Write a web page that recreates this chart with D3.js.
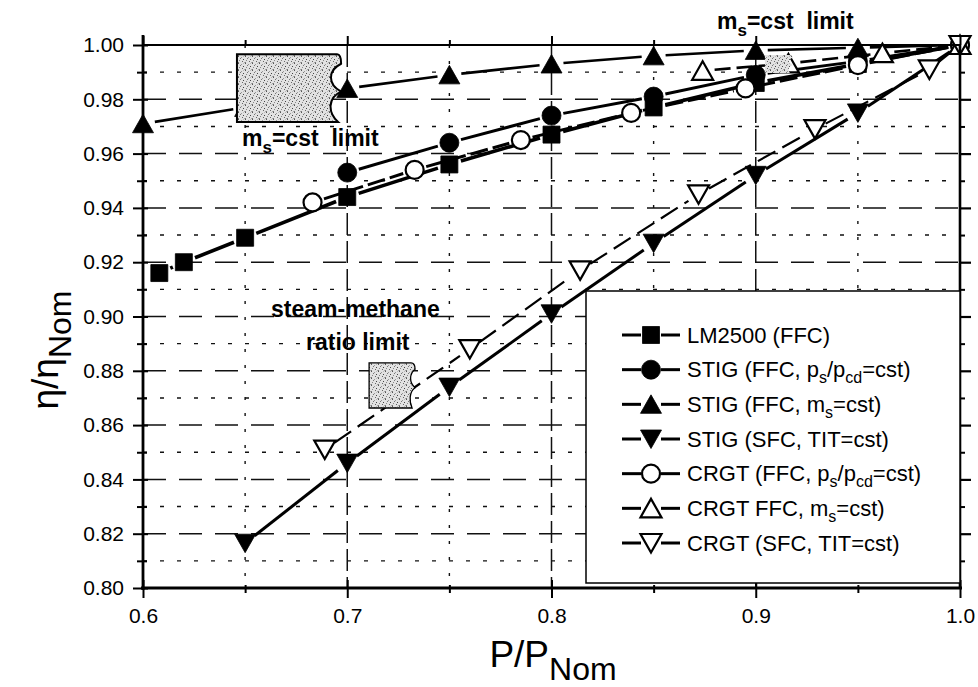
<!DOCTYPE html>
<html>
<head>
<meta charset="utf-8">
<script src="https://cdn.jsdelivr.net/npm/d3@7"></script>
<style>
  html, body { margin: 0; padding: 0; background: #fff; }
  svg { display: block; font-family: "Liberation Sans", Arial, Helvetica, sans-serif; }
  .pre { white-space: pre; }
</style>
</head>
<body>
<svg id="chart" width="978" height="687"></svg>
<script>
// ---- Part-load efficiency ratio versus power ratio ----

const xTickValues = [0.6, 0.7, 0.8, 0.9, 1.0];
const xTickLabels = ["0.6", "0.7", "0.8", "0.9", "1.0"];
const yTickValues = [0.80, 0.82, 0.84, 0.86, 0.88, 0.90, 0.92, 0.94, 0.96, 0.98, 1.00];
const yTickLabels = ["0.80", "0.82", "0.84", "0.86", "0.88", "0.90", "0.92", "0.94", "0.96", "0.98", "1.00"];

const seriesNames = [
  "LM2500 (FFC)",
  "STIG (FFC, p_{s}/p_{cd}=cst)",
  "STIG (FFC, m_{s}=cst)",
  "STIG (SFC, TIT=cst)",
  "CRGT (FFC, p_{s}/p_{cd}=cst)",
  "CRGT FFC, m_{s}=cst)",
  "CRGT (SFC, TIT=cst)"
];

// LM2500 (FFC)
const lm2500P   = [0.608, 0.620, 0.650, 0.700, 0.750, 0.800, 0.850, 0.900, 0.950, 1.000];
const lm2500Eta = [0.916, 0.920, 0.929, 0.944, 0.956, 0.967, 0.977, 0.986, 0.993, 1.000];
// STIG (FFC, ps/pcd = cst)
const stigPsP   = [0.700, 0.750, 0.800, 0.850, 0.900, 0.950, 1.000];
const stigPsEta = [0.953, 0.964, 0.974, 0.981, 0.989, 0.994, 1.000];
// STIG (FFC, ms = cst)
const stigMsP   = [0.600, 0.650, 0.700, 0.750, 0.800, 0.850, 0.900, 0.950, 1.000];
const stigMsEta = [0.971, 0.977, 0.984, 0.989, 0.993, 0.996, 0.998, 0.999, 1.000];
// STIG (SFC, TIT = cst)
const stigSfcP   = [0.650, 0.700, 0.750, 0.800, 0.850, 0.900, 0.950, 1.000];
const stigSfcEta = [0.8165, 0.846, 0.874, 0.901, 0.927, 0.952, 0.975, 1.000];
// CRGT (FFC, ps/pcd = cst)
const crgtPsP   = [0.683, 0.733, 0.785, 0.839, 0.895, 0.950, 1.000];
const crgtPsEta = [0.942, 0.954, 0.965, 0.975, 0.984, 0.9926, 1.000];
// CRGT (FFC, ms = cst)
const crgtMsP   = [0.874, 0.916, 0.962, 1.000];
const crgtMsEta = [0.9905, 0.9932, 0.997, 1.000];
// CRGT (SFC, TIT = cst)
const crgtSfcP   = [0.689, 0.760, 0.814, 0.872, 0.929, 0.985, 1.000];
const crgtSfcEta = [0.851, 0.888, 0.917, 0.945, 0.969, 0.991, 1.000];

const seriesP   = [lm2500P, stigPsP, stigMsP, stigSfcP, crgtPsP, crgtMsP, crgtSfcP];
const seriesEta = [lm2500Eta, stigPsEta, stigMsEta, stigSfcEta, crgtPsEta, crgtMsEta, crgtSfcEta];

// drawing style for each series: marker shape, fill, line dash, line width
const seriesStyle = [
  { shape: "square",  filled: true,  dash: null,    lw: 3.6 },
  { shape: "circle",  filled: true,  dash: null,    lw: 3.0 },
  { shape: "up",      filled: true,  dash: null,    lw: 2.6 },
  { shape: "down",    filled: true,  dash: null,    lw: 3.0 },
  { shape: "circle",  filled: false, dash: "18,5",  lw: 3.0 },
  { shape: "up",      filled: false, dash: "16,6",  lw: 2.6 },
  { shape: "down",    filled: false, dash: "20,8",  lw: 2.2 }
];

// stippled "limit" zones, in data coordinates
const zoneP0   = [0.646, 0.7107, 0.9045];
const zoneP1   = [0.697, 0.7332, 0.9182];
const zoneEta0 = [0.9966, 0.8829, 0.9963];
const zoneEta1 = [0.9716, 0.8663, 0.9897];

// ---------------------------------------------------------------
(function draw() {
const svg = d3.select("#chart");
svg.append("rect").attr("width", 978).attr("height", 687).attr("fill", "#fff");

const L = 143, R = 960, T = 45, B = 588;
const x = d3.scaleLinear().domain([0.6, 1.0]).range([L, R]);
const y = d3.scaleLinear().domain([0.80, 1.00]).range([B, T]);

const defs = svg.append("defs");
const pat = defs.append("pattern").attr("id", "stipple")
  .attr("width", 7).attr("height", 7).attr("patternUnits", "userSpaceOnUse");
pat.append("rect").attr("width", 7).attr("height", 7).attr("fill", "#e2e2e2");
[[0,0,"#555"],[3,1,"#999"],[5,3,"#444"],[1,4,"#888"],[4,5,"#666"],[6,6,"#aaa"],[2,2,"#777"],[5,0,"#bbb"],[0,6,"#777"]]
  .forEach(([a, b, c]) => pat.append("rect").attr("x", a).attr("y", b)
    .attr("width", 1).attr("height", 1).attr("fill", c));

// ---- grid ----
const grid = svg.append("g").attr("stroke", "#111").attr("fill", "none");
const minorY = d3.range(0.81, 1.0, 0.02).map(v => +v.toFixed(2));
const majorY = yTickValues.filter(v => v > 0.8 && v < 1.0);
const majorX = xTickValues.filter(v => v > 0.6 && v < 1.0);
const minorX = [0.65, 0.75, 0.85, 0.95];

grid.append("g").selectAll("line").data(minorY).join("line")
  .attr("x1", L).attr("x2", R).attr("y1", d => y(d)).attr("y2", d => y(d))
  .attr("stroke-width", 1.4).attr("stroke-dasharray", "4,13");
grid.append("g").selectAll("line").data(majorY).join("line")
  .attr("x1", L).attr("x2", R).attr("y1", d => y(d)).attr("y2", d => y(d))
  .attr("stroke-width", 1.5).attr("stroke-dasharray", "23,13");
grid.append("g").selectAll("line").data(minorX).join("line")
  .attr("x1", d => x(d)).attr("x2", d => x(d)).attr("y1", T).attr("y2", B)
  .attr("stroke-width", 1.4).attr("stroke-dasharray", "3,13");
grid.append("g").selectAll("line").data(majorX).join("line")
  .attr("x1", d => x(d)).attr("x2", d => x(d)).attr("y1", T).attr("y2", B)
  .attr("stroke-width", 1.5).attr("stroke-dasharray", "22,6");

// ---- text with subscripts written as _{...} ----
function richText(textSel, str, size, subSize, shift) {
  const parts = str.split(/(_\{[^}]*\})/).filter(s => s.length);
  let down = false;
  parts.forEach(p => {
    const m = p.match(/^_\{([^}]*)\}$/);
    const t = textSel.append("tspan");
    if (m) {
      t.text(m[1]).attr("font-size", subSize).attr("dy", down ? 0 : shift);
      down = true;
    } else {
      t.text(p).attr("font-size", size).attr("dy", down ? -shift : 0);
      down = false;
    }
  });
  return textSel;
}

// ---- annotations ----
const ann = svg.append("g").attr("font-weight", "bold").attr("fill", "#000");
richText(ann.append("text").attr("class", "pre").attr("x", 717).attr("y", 29), "m_{s}=cst  limit", 23, 17, 7);
richText(ann.append("text").attr("class", "pre").attr("x", 242).attr("y", 146), "m_{s}=cst  limit", 23, 17, 7);
ann.append("text").attr("x", 271).attr("y", 317).attr("font-size", 23).text("steam-methane");
ann.append("text").attr("x", 306).attr("y", 350).attr("font-size", 23).text("ratio limit");

// ---- markers ----
function markerPath(shape) {
  if (shape === "square") return "M-8.5,-8.5H8.5V8.5H-8.5Z";
  if (shape === "up") return "M0,-9.5L10.5,9L-10.5,9Z";
  if (shape === "down") return "M0,9.5L10.5,-9L-10.5,-9Z";
  return null;
}
function drawMarker(g, cx, cy, st) {
  const fill = st.filled ? "#000" : "#fff";
  const sw = st.filled ? 0.8 : 2.2;
  if (st.shape === "circle") {
    g.append("circle").attr("cx", cx).attr("cy", cy).attr("r", st.filled ? 9.5 : 9)
      .attr("fill", fill).attr("stroke", "#000").attr("stroke-width", sw);
  } else {
    g.append("path").attr("d", markerPath(st.shape))
      .attr("transform", `translate(${cx},${cy})`)
      .attr("fill", fill).attr("stroke", "#000").attr("stroke-width", sw)
      .attr("stroke-linejoin", "miter");
  }
}

// connecting segments stop short of each marker
function gapSegments(pts, gap) {
  const segs = [];
  for (let i = 0; i < pts.length - 1; i++) {
    const [x1, y1] = pts[i], [x2, y2] = pts[i + 1];
    const dx = x2 - x1, dy = y2 - y1, len = Math.hypot(dx, dy);
    if (len <= 2 * gap) continue;
    const ux = dx / len, uy = dy / len;
    segs.push([x1 + ux * gap, y1 + uy * gap, x2 - ux * gap, y2 - uy * gap]);
  }
  return segs;
}

const plot = svg.append("g");
seriesP.forEach((ps, i) => {
  const st = seriesStyle[i];
  const pts = ps.map((p, k) => [x(p), y(seriesEta[i][k])]);
  plot.append("g").selectAll("line").data(gapSegments(pts, 12)).join("line")
    .attr("x1", d => d[0]).attr("y1", d => d[1]).attr("x2", d => d[2]).attr("y2", d => d[3])
    .attr("stroke", "#000").attr("stroke-width", st.lw)
    .attr("stroke-dasharray", st.dash);
});
seriesP.forEach((ps, i) => {
  const st = seriesStyle[i];
  const g = plot.append("g");
  ps.forEach((p, k) => drawMarker(g, x(p), y(seriesEta[i][k]), st));
});

// ---- stippled zones with torn right edge, laid over the curves ----
function tornBox(x0, x1, y0, y1) {
  const h = y1 - y0, b = Math.max(5, (x1 - x0) * 0.13);
  return `M${x0},${y0} L${x1 - 4},${y0} Q${x1},${y0} ${x1},${y0 + 0.14 * h}` +
    ` C${x1 - b},${y0 + 0.24 * h} ${x1 - b},${y0 + 0.44 * h} ${x1},${y0 + 0.55 * h}` +
    ` C${x1 - b},${y0 + 0.64 * h} ${x1 - b},${y0 + 0.86 * h} ${x1 - 3},${y1}` +
    ` L${x0},${y1} Z`;
}
zoneP0.forEach((p0, i) => {
  svg.append("path")
    .attr("d", tornBox(x(p0), x(zoneP1[i]), y(zoneEta0[i]), y(zoneEta1[i])))
    .attr("fill", "url(#stipple)")
    .attr("stroke", i === 2 ? "none" : "#000")
    .attr("stroke-width", i === 0 ? 2 : 1.3);
});

// ---- axes ----
function styleAxis(g, w) {
  g.select(".domain").remove();
  g.selectAll(".tick line").attr("stroke", "#000").attr("stroke-width", w);
}
const yMinor = minorY;
const xMinor = minorX;
const tickFont = 21;
const at = (tx, ty) => svg.append("g").attr("transform", `translate(${tx},${ty})`);

// left axis: labelled major ticks crossing the spine, minor ticks
const gl = at(L, 0);
gl.call(d3.axisLeft(y).tickValues(yTickValues).tickSize(10).tickPadding(9)
  .tickFormat((d, i) => yTickLabels[i])).call(styleAxis, 2);
gl.selectAll("text").attr("font-size", tickFont).attr("fill", "#000")
  .attr("font-family", "Liberation Sans, Arial, sans-serif");
at(L, 0).call(d3.axisRight(y).tickValues(yTickValues).tickSize(5).tickFormat("")).call(styleAxis, 2);
at(L, 0).call(d3.axisLeft(y).tickValues(yMinor).tickSize(6).tickFormat("")).call(styleAxis, 2);
at(L, 0).call(d3.axisRight(y).tickValues(yMinor).tickSize(4).tickFormat("")).call(styleAxis, 2);

// bottom axis
const gb = at(0, B);
gb.call(d3.axisBottom(x).tickValues(xTickValues).tickSize(10).tickPadding(10)
  .tickFormat((d, i) => xTickLabels[i])).call(styleAxis, 2);
gb.selectAll("text").attr("font-size", tickFont).attr("fill", "#000")
  .attr("font-family", "Liberation Sans, Arial, sans-serif");
at(0, B).call(d3.axisTop(x).tickValues(xTickValues).tickSize(8).tickFormat("")).call(styleAxis, 2);
at(0, B).call(d3.axisBottom(x).tickValues(xMinor).tickSize(5).tickFormat("")).call(styleAxis, 2);
at(0, B).call(d3.axisTop(x).tickValues(xMinor).tickSize(3).tickFormat("")).call(styleAxis, 2);

// top axis (outward ticks only)
at(0, T).call(d3.axisTop(x).tickValues(xTickValues).tickSize(9).tickFormat("")).call(styleAxis, 2);
at(0, T).call(d3.axisTop(x).tickValues(xMinor).tickSize(5).tickFormat("")).call(styleAxis, 2);

// right axis (outward ticks only)
at(R, 0).call(d3.axisRight(y).tickValues(majorY).tickSize(11).tickFormat("")).call(styleAxis, 2.2);
at(R, 0).call(d3.axisRight(y).tickValues(yMinor).tickSize(5).tickFormat("")).call(styleAxis, 2);

// frame spines
const frame = svg.append("g").attr("stroke", "#000").attr("fill", "none");
frame.append("line").attr("x1", L).attr("x2", R).attr("y1", T).attr("y2", T).attr("stroke-width", 2);
frame.append("line").attr("x1", R).attr("x2", R).attr("y1", T).attr("y2", B).attr("stroke-width", 2.6);
frame.append("line").attr("x1", L).attr("x2", L).attr("y1", T - 10).attr("y2", B + 2).attr("stroke-width", 2.8);
frame.append("line").attr("x1", L - 2).attr("x2", R + 2).attr("y1", B).attr("y2", B).attr("stroke-width", 2.8);

// ---- legend ----
const lg = svg.append("g");
lg.append("rect").attr("x", 586).attr("y", 291).attr("width", R - 586).attr("height", 292)
  .attr("fill", "#fff").attr("stroke", "#000").attr("stroke-width", 1.5);
const rowY = d3.scaleLinear().domain([0, seriesNames.length - 1]).range([335, 543]);
seriesNames.forEach((name, i) => {
  const st = seriesStyle[i];
  const cy = rowY(i);
  lg.append("line").attr("x1", 622).attr("x2", 641).attr("y1", cy).attr("y2", cy)
    .attr("stroke", "#000").attr("stroke-width", 3);
  lg.append("line").attr("x1", 661).attr("x2", 680).attr("y1", cy).attr("y2", cy)
    .attr("stroke", "#000").attr("stroke-width", 3);
  drawMarker(lg, 651, cy, st);
  richText(lg.append("text").attr("x", 687).attr("y", cy + 7.5).attr("fill", "#000"),
    name, 22, 16, 6);
});

// ---- axis titles ----
richText(svg.append("text").attr("x", 553).attr("y", 667).attr("text-anchor", "middle"),
  "P/P_{Nom}", 37, 32, 13);
richText(svg.append("text").attr("transform", "translate(58,350) rotate(-90)")
  .attr("text-anchor", "middle"), "η/η_{Nom}", 37, 32, 13);
})();
</script>
</body>
</html>
